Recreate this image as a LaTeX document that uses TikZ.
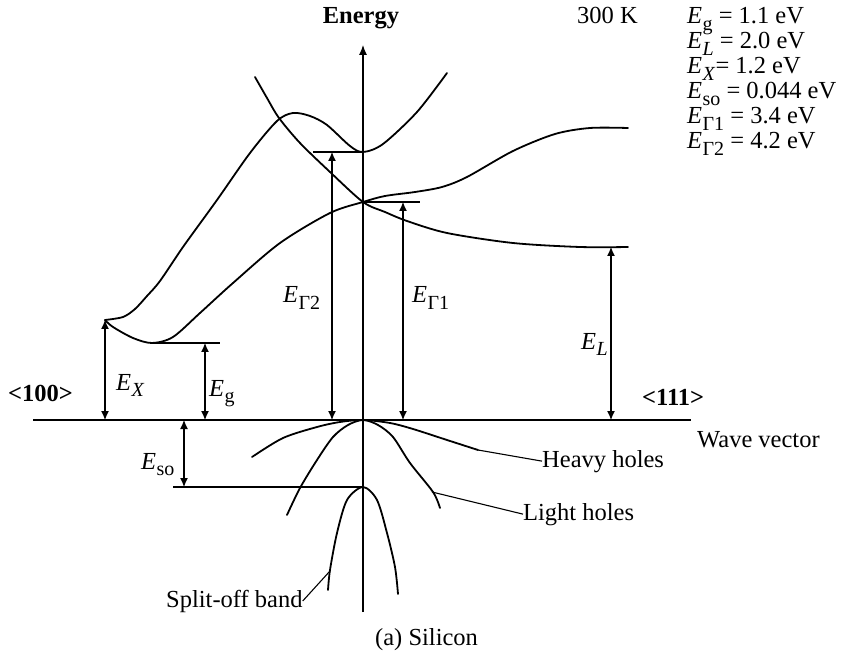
\documentclass[tikz,border=0pt]{standalone}
\usepackage{fontspec}
\setmainfont{Liberation Serif}
\usetikzlibrary{arrows.meta}
\newcommand\En[1]{\textit{E}\kern0.5pt\raisebox{-0.27em}{\fontsize{20}{20}\selectfont #1}}
\begin{document}
\begin{tikzpicture}[x=1pt,y=-1pt,
  every node/.style={inner sep=0pt,font=\fontsize{24.5}{29}\selectfont},
  band/.style={line width=1.8pt,line cap=round,line join=round},
  axisline/.style={line width=1.1pt},
  tick/.style={line width=1.1pt},
  dimarrow/.style={line width=1.1pt,{Latex[length=9pt,width=8pt]}-{Latex[length=9pt,width=8pt]}},
  leader/.style={line width=1.1pt}]
\useasboundingbox (0,0) rectangle (841,652);

% key points
\coordinate (X) at (105,320);
\coordinate (Xfoot) at (105,420);
\coordinate (XminL) at (150,343);
\coordinate (XminR) at (220,343);
\coordinate (Egtop) at (205,343);
\coordinate (Egfoot) at (205,420);
\coordinate (G2) at (363,152);
\coordinate (G2L) at (313,152);
\coordinate (G2top) at (332,152);
\coordinate (G2foot) at (332,420);
\coordinate (G1) at (363,202);
\coordinate (G1R) at (420,202);
\coordinate (G1top) at (403,202);
\coordinate (G1foot) at (403,420);
\coordinate (Ltop) at (611,247);
\coordinate (Lfoot) at (611,420);
\coordinate (SO) at (363,487);
\coordinate (SOL) at (173,487);
\coordinate (Esotop) at (184,420);
\coordinate (Esofoot) at (184,487);
\coordinate (axL) at (33,420);
\coordinate (axR) at (691,420);
\coordinate (axB) at (363,612);
\coordinate (axT) at (363,45);

% axes
\draw[axisline] (axL) -- (axR);
\draw[axisline,-{Latex[length=10pt,width=8pt]}] (axB) -- (axT);

% conduction bands
\draw[band] plot[smooth] coordinates {(105,320) (123,317) (135,309) (147,296) (160,281) (183,247) (217,200) (250,153) (277,121) (293,113) (310,116) (327,125) (350,146) (363,152) (383,144) (417,112) (447,73)};
\draw[band] plot[smooth] coordinates {(255,77) (267,98) (279,118) (300,143) (330,172) (363,202) (385,212) (407,221) (447,233) (513,243) (580,247) (628,247)};
\draw[band] plot[smooth] coordinates {(105,320) (113,327) (133,338) (152,343) (173,337) (200,313) (233,283) (280,243) (330,213) (363,202) (385,196) (415,192) (442,187) (467,177) (513,151) (555,134) (590,128) (628,128)};

% valence bands
\draw[band] plot[smooth] coordinates {(252,457) (283,438) (317,427) (340,422) (363,420) (390,423) (413,429) (447,440) (478,450)};
\draw[band] plot[smooth] coordinates {(287,515) (300,488) (317,460) (333,437) (348,425) (363,420) (378,425) (393,437) (410,463) (433,492) (440,508)};
\draw[band] plot[smooth] coordinates {(328,590) (330,570) (337,533) (347,500) (363,487) (377,500) (387,533) (395,567) (398,594)};

% ticks
\draw[tick] (XminL) -- (XminR);
\draw[tick] (G2L) -- (G2);
\draw[tick] (G1) -- (G1R);
\draw[tick] (SOL) -- (SO);

% dimension arrows
\draw[dimarrow] (Xfoot) -- (X);
\draw[dimarrow] (Egfoot) -- (Egtop);
\draw[dimarrow] (G2foot) -- (G2top);
\draw[dimarrow] (G1foot) -- (G1top);
\draw[dimarrow] (Lfoot) -- (Ltop);
\draw[dimarrow] (Esotop) -- (Esofoot);

% labels
\node[anchor=base west] (lEX) at (116,390) {\En{\textit{X}}};
\node[anchor=base west] (lEg) at (209,396) {\En{g}};
\node[anchor=base west] (lEso) at (141,469) {\En{so}};
\node[anchor=base west] (lEG2) at (283,303) {\En{Γ2}};
\node[anchor=base west] (lEG1) at (412,303) {\En{Γ1}};
\node[anchor=base west] (lEL) at (581,349) {\En{\textit{L}}};

\node[anchor=base] (energy) at (361,24) {\textbf{Energy}};
\node[anchor=base east] (temp) at (638,24) {300 K};
\node[anchor=base west] (v1) at (687,24) {\En{g} = 1.1 eV};
\node[anchor=base west] (v2) at (687,49) {\En{\textit{L}} = 2.0 eV};
\node[anchor=base west] (v3) at (687,74) {\En{\textit{X}}= 1.2 eV};
\node[anchor=base west] (v4) at (687,99) {\En{so} = 0.044 eV};
\node[anchor=base west] (v5) at (687,124) {\En{Γ1} = 3.4 eV};
\node[anchor=base west] (v6) at (687,149) {\En{Γ2} = 4.2 eV};

\node[anchor=base west] (d100) at (8,402) {\textbf{<100>}};
\node[anchor=base west] (d111) at (642,405) {\textbf{<111>}};
\node[anchor=base west] (wv) at (697,447) {Wave vector};

\node[anchor=base west] (hh) at (542,467) {Heavy holes};
\node[anchor=base west] (lh) at (523,520) {Light holes};
\node[anchor=base west] (so) at (166,607) {Split-off band};
\node[anchor=base west] (cap) at (375,645) {(a) Silicon};

% leaders
\coordinate (hhA) at (478,450);
\coordinate (lhA) at (432,492);
\coordinate (soA) at (330,571);
\draw[leader] (hhA) -- (hh.west);
\draw[leader] (lhA) -- (lh.west);
\draw[leader] (soA) -- (so.east);
\end{tikzpicture}
\end{document}
